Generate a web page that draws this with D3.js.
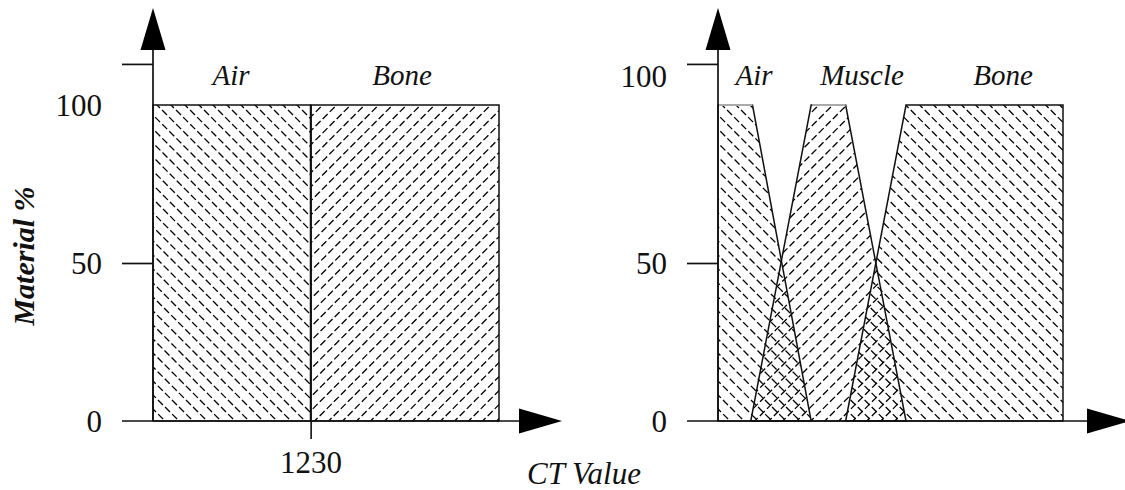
<!DOCTYPE html>
<html>
<head>
<meta charset="utf-8">
<script src="https://cdn.jsdelivr.net/npm/d3@7"></script>
<style>
  html, body { margin: 0; padding: 0; background: #fff; }
  svg { display: block; }
  text { font-family: "Liberation Serif", "Times New Roman", serif; fill: #111; }
</style>
</head>
<body>
<svg id="chart" width="1125" height="490"></svg>
<script>
// ---------- data ----------
// Left panel: two materials split at CT value 1230
const leftCategories = ["Air", "Bone"];
const leftAir  = [[0, 100], [1230, 100]];
const leftBone = [[1230, 100], [2700, 100]];
const leftDomain = [0, 2700];
const xTickValues = [1230];
const xTickLabels = ["1230"];

// Right panel: three materials with overlapping transitions (CT in relative units)
const rightCategories = ["Air", "Muscle", "Bone"];
const rightAir    = [[0, 100], [10, 100], [27, 0]];
const rightMuscle = [[9.5, 0], [27, 100], [37, 100], [54.5, 0]];
const rightBone   = [[37, 0], [54.5, 100], [100, 100]];
const rightDomain = [0, 100];

const yTickValues = [0, 50, 100];
const yTickLabels = ["0", "50", "100"];
const yTopTick = 113;          // unlabeled tick above 100
const yAxisTitle = "Material %";
const xAxisTitle = "CT Value";

// ---------- layout ----------
const svg = d3.select("#chart");
const y = d3.scaleLinear().domain([0, 100]).range([421, 105]);

const panels = [
  { x: d3.scaleLinear().domain(leftDomain).range([153, 499]),
    shapes: [ {name: leftCategories[0], data: leftAir, dir: "back", greyTop: false},
              {name: leftCategories[1], data: leftBone, dir: "fwd", greyTop: false} ],
    labels: [ {t: leftCategories[0], x: 231}, {t: leftCategories[1], x: 402} ],
    hundredDy: 11, arrowTip: 562, showTick: true },
  { x: d3.scaleLinear().domain(rightDomain).range([718, 1063]),
    shapes: [ {name: rightCategories[0], data: rightAir, dir: "back", greyTop: true},
              {name: rightCategories[1], data: rightMuscle, dir: "fwd", greyTop: true},
              {name: rightCategories[2], data: rightBone, dir: "back", greyTop: false} ],
    labels: [ {t: rightCategories[0], x: 754}, {t: rightCategories[1], x: 862}, {t: rightCategories[2], x: 1003} ],
    hundredDy: -18, arrowTip: 1130, showTick: false }
];

const defs = svg.append("defs");
let clipN = 0;
const SP = 14;   // hatch spacing

panels.forEach((p, pi) => {
  const g = svg.append("g");
  const x = p.x;
  const ax = x.range()[0];
  const area = d3.area().x(d => x(d[0])).y0(y(0)).y1(d => y(d[1]));

  // hatched shapes
  p.shapes.forEach(s => {
    const d = area(s.data);
    const id = "clip" + (clipN++);
    defs.append("clipPath").attr("id", id).append("path").attr("d", d);
    const xs = s.data.map(v => x(v[0]));
    const x0 = d3.min(xs), x1 = d3.max(xs);
    const yT = y(100) - 2, yB = y(0) + 2, H = yB - yT;
    const lines = d3.range(x0 - H - SP, x1 + SP, SP);
    g.append("g").attr("clip-path", `url(#${id})`)
      .selectAll("line").data(lines).join("line")
      .attr("x1", a => a)
      .attr("y1", s.dir === "back" ? yT : yB)
      .attr("x2", a => a + H)
      .attr("y2", s.dir === "back" ? yB : yT)
      .attr("stroke", "#000")
      .attr("stroke-width", 1.3)
      .attr("stroke-dasharray", "7 3");
  });
  // outlines
  p.shapes.forEach(s => {
    g.append("path").attr("d", area(s.data))
      .attr("fill", "none").attr("stroke", "#111").attr("stroke-width", 1.5)
      .attr("stroke-linejoin", "miter");
    if (s.greyTop) {
      const top = s.data.filter(v => v[1] === 100);
      g.append("line")
        .attr("x1", x(top[0][0]) + 1).attr("x2", x(top[top.length - 1][0]))
        .attr("y1", y(100)).attr("y2", y(100))
        .attr("stroke", "#aaa").attr("stroke-width", 2);
    }
  });

  // x axis ticks (left panel only)
  if (p.showTick) {
    const xa = d3.axisBottom(x).tickValues(xTickValues)
      .tickFormat((d, i) => xTickLabels[i]).tickSize(18).tickPadding(12);
    const xg = g.append("g").attr("transform", `translate(0,${y(0)})`).call(xa);
    xg.select(".domain").remove();
    xg.selectAll(".tick line").attr("stroke", "#111").attr("stroke-width", 1.6);
    xg.selectAll(".tick text").attr("font-size", 31).attr("fill", "#111")
      .style("font-family", '"Liberation Serif", "Times New Roman", serif');
    // divider from the top of the bars down to the axis
    xg.selectAll(".tick").append("line").attr("y1", y(100) - y(0)).attr("y2", 0)
      .attr("stroke", "#111").attr("stroke-width", 1.5);
  }

  // y axis ticks
  const ya = d3.axisLeft(y).tickValues([50, yTopTick]).tickSize(31).tickFormat("");
  const yg = g.append("g").attr("transform", `translate(${ax},0)`).call(ya);
  yg.select(".domain").remove();
  yg.selectAll(".tick line").attr("stroke", "#111").attr("stroke-width", 1.7);

  // y tick labels
  g.selectAll("text.ylab").data(yTickValues).join("text").attr("class", "ylab")
    .attr("x", ax - 51)
    .attr("y", v => y(v) + (v === 100 ? p.hundredDy : 11))
    .attr("text-anchor", "end").attr("font-size", 31)
    .text((v, i) => yTickLabels[i]);

  // axis lines
  g.append("line").attr("x1", ax).attr("x2", ax).attr("y1", y(0)).attr("y2", 50)
    .attr("stroke", "#111").attr("stroke-width", 1.7);
  g.append("line").attr("x1", ax - 31).attr("x2", p.arrowTip - 43).attr("y1", y(0)).attr("y2", y(0))
    .attr("stroke", "#111").attr("stroke-width", 1.7);
  // arrows
  g.append("path").attr("d", `M${ax},8 L${ax - 12.5},50 L${ax + 12.5},50 Z`).attr("fill", "#000");
  const tb = p.arrowTip - 43, yy = y(0);
  g.append("path").attr("d", `M${p.arrowTip},${yy} L${tb},${yy - 12.5} L${tb},${yy + 12.5} Z`).attr("fill", "#000");

  // material labels
  g.selectAll("text.mat").data(p.labels).join("text").attr("class", "mat")
    .attr("x", d => d.x).attr("y", 85).attr("text-anchor", "middle")
    .attr("font-size", 29).attr("font-style", "italic")
    .text(d => d.t);
});

// axis titles
svg.append("text")
  .attr("transform", "translate(34,256) rotate(-90)")
  .attr("text-anchor", "middle").attr("font-size", 30)
  .attr("font-style", "italic").attr("font-weight", "bold")
  .text(yAxisTitle);
svg.append("text").attr("x", 527).attr("y", 484)
  .attr("font-size", 31).attr("font-style", "italic")
  .text(xAxisTitle);
</script>
</body>
</html>
